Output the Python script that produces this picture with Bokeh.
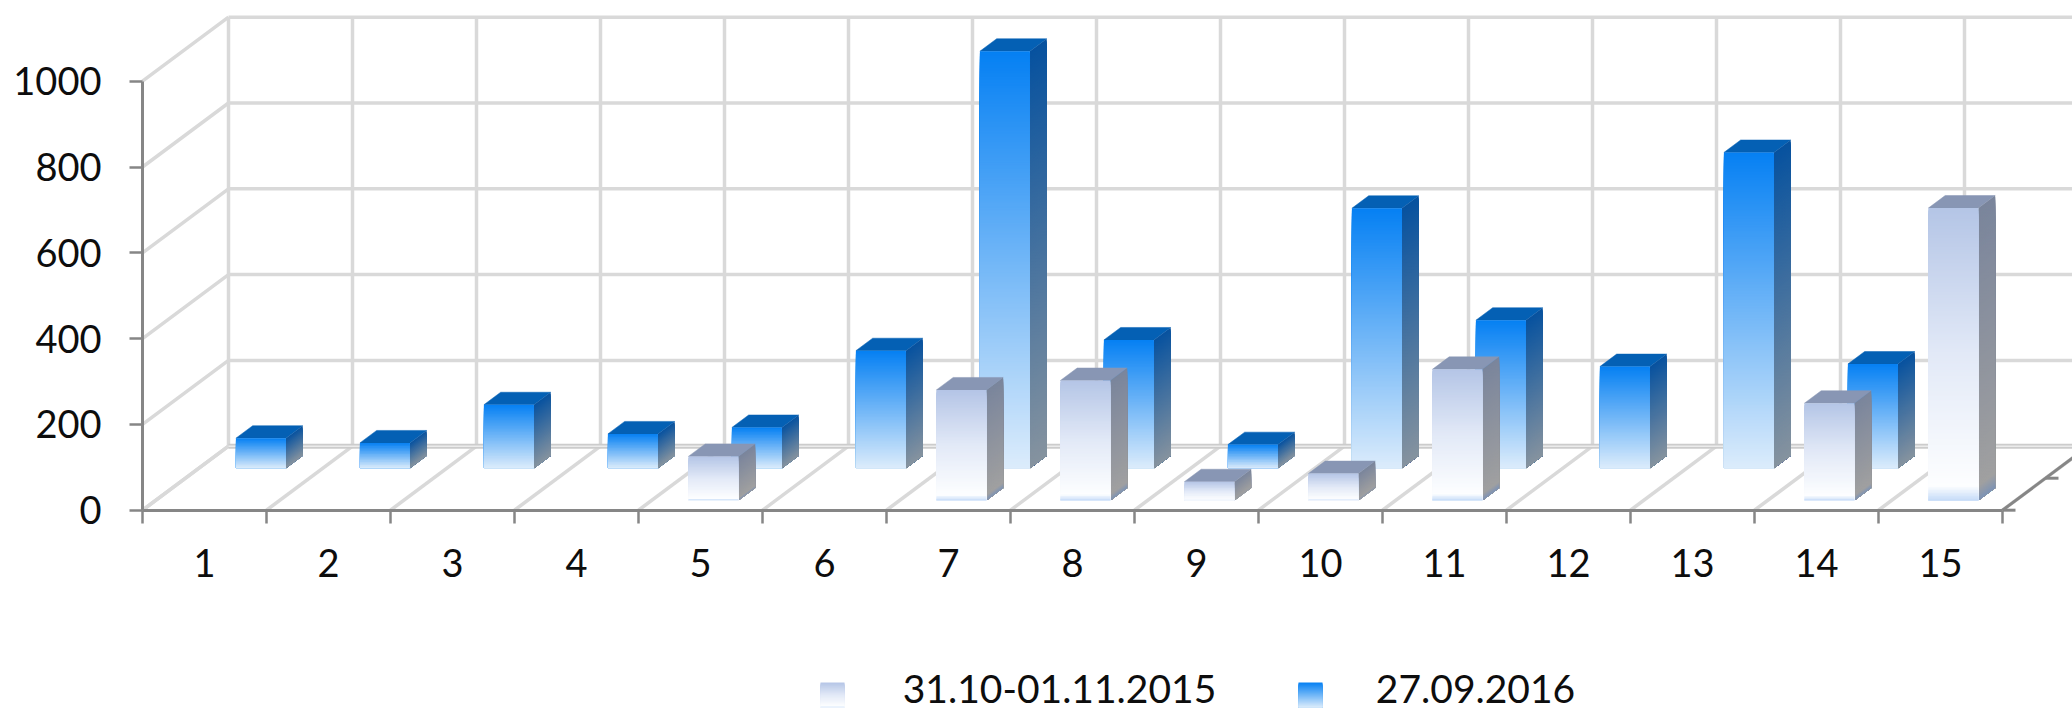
from bokeh.plotting import figure
from bokeh.models import LinearAxis, FixedTicker, Range1d
from bokeh.core.properties import value
from bokeh.embed import file_html
from bokeh.resources import INLINE

categories = [str(i) for i in range(1, 16)]
y_ticks = [0, 200, 400, 600, 800, 1000]
series_2015 = [0, 0, 0, 0, 103, 0, 258, 280, 44, 63, 306, 0, 0, 227, 682]
series_2016 = [70, 59, 148, 80, 95, 274, 972, 299, 55, 606, 345, 237, 736, 243, 0]
legend_labels = ["31.10-01.11.2015", "27.09.2016"]

W, H = 2072, 712
AX_X, AX_Y = 142.0, 509.7     # page px of the origin
CAT_PX = 124.0
VAL_PX = 0.429
DEPTH_DX, DEPTH_DY = 86.0, 64.0
FONT = "Lato"

def px_x(px):
    return (px - AX_X) / CAT_PX

def px_y(py):
    return (AX_Y - py) / VAL_PX

def proj(c, v, z):
    return c + z * DEPTH_DX / CAT_PX, v + z * DEPTH_DY / VAL_PX

def hex2rgb(h):
    return tuple(int(h[i:i + 2], 16) for i in (1, 3, 5))

def ramp(stops, t):
    for (t0, c0), (t1, c1) in zip(stops, stops[1:]):
        if t <= t1:
            f = (t - t0) / (t1 - t0) if t1 > t0 else 0
            a, b = hex2rgb(c0), hex2rgb(c1)
            return "#%02x%02x%02x" % tuple(round(a[i] + (b[i] - a[i]) * f) for i in range(3))
    return stops[-1][1]

blue_style = dict(
    face=[(0, "#0580f3"), (1, "#dcecfb")],
    side=[(0, "#07529f"), (1, "#86939f")],
    top="#0460b4", z=(0.656, 0.851))
pale_style = dict(
    face=[(0, "#b4c5e6"), (0.5, "#e2e9f7"), (0.95, "#fdfeff"), (1, "#c5dbf8")],
    side=[(0, "#7a859c"), (0.95, "#a0a0a0"), (1, "#7d93b5")],
    top="#8896b4", z=(0.15, 0.345))

p = figure(width=W, height=H, output_backend="svg", toolbar_location=None,
           min_border=0, min_border_left=0, min_border_right=0,
           min_border_top=0, min_border_bottom=0,
           x_range=Range1d(px_x(0), px_x(W)),
           y_range=Range1d(px_y(H), px_y(0)),
           outline_line_color=None, background_fill_color="white",
           border_fill_color="white")
p.xaxis.visible = False
p.yaxis.visible = False
p.xgrid.visible = False
p.ygrid.visible = False

# walls and floor
n = len(categories)
GRID = "#d9d9d9"
xs, ys = [], []
def seg(a, b):
    xs.append([a[0], b[0]])
    ys.append([a[1], b[1]])
for v in y_ticks:
    seg(proj(0, v, 0), proj(0, v, 1))
    seg(proj(0, v, 1), proj(n, v, 1))
for c in range(n + 1):
    seg(proj(c, 0, 0), proj(c, 0, 1))
    seg(proj(c, 0, 1), proj(c, y_ticks[-1], 1))
p.multi_line(xs, ys, line_color=GRID, line_width=3.5)

# back edge of the floor: a doubled line
fa, fb_ = proj(0, 0, 1), proj(n, 0, 1)
p.line([fa[0], fb_[0]], [fa[1], fb_[1]], line_color="#cccccc", line_width=5)
p.line([fa[0], fb_[0]], [fa[1], fb_[1]], line_color="#ebebeb", line_width=1.5)

AXC = "#868686"
# depth axis
dx, dy = [], []
dx.append([proj(n, 0, 0)[0], proj(n, 0, 1)[0]])
dy.append([proj(n, 0, 0)[1], proj(n, 0, 1)[1]])
for z in (0, 0.5, 1):
    a = proj(n, 0, z)
    dx.append([a[0], a[0] + 13 / CAT_PX])
    dy.append([a[1], a[1]])
p.multi_line(dx, dy, line_color=AXC, line_width=3)

def bar(vals, st):
    z0, z1 = st["z"]
    for i, v in enumerate(vals):
        if v <= 0:
            continue
        w = 50.0 / CAT_PX
        c0 = i + 0.5 - w / 2
        c1 = i + 0.5 + w / 2
        corners = [proj(c0, v, z0), proj(c1, v, z0), proj(c1, v, z1), proj(c0, v, z1)]
        p.patch([q[0] for q in corners], [q[1] for q in corners],
                fill_color=st["top"], line_color=st["top"], line_width=0.5)
        m = max(6, int(v * VAL_PX / 1.5))
        fx0, fx1, fb, ft, fc = [], [], [], [], []
        sx, sy, sc = [], [], []
        base_y = proj(c0, 0, z0)[1]
        for k in range(m):
            t0, t1 = k / m, (k + 1) / m
            vt = v * (1 - t0)
            x0, _ = proj(c0, vt, z0)
            x1, yt = proj(c1, vt, z0)
            # painter's order: every slice reaches down to the base, so no seams
            fx0.append(x0); fx1.append(x1); fb.append(base_y); ft.append(yt)
            fc.append(ramp(st["face"], (t0 + t1) / 2))
            a = proj(c1, vt, z0); b = proj(c1, vt, z1)
            c = proj(c1, 0, z1); d = proj(c1, 0, z0)
            sx.append([a[0], b[0], c[0], d[0]])
            sy.append([a[1], b[1], c[1], d[1]])
            sc.append(ramp(st["side"], (t0 + t1) / 2))
        p.patches(sx, sy, fill_color=sc, line_color=None)
        p.quad(left=fx0, right=fx1, bottom=fb, top=ft, fill_color=fc, line_color=None)

bar(series_2016, blue_style)
bar(series_2015, pale_style)

# axes
yax = LinearAxis(fixed_location=0, ticker=FixedTicker(ticks=y_ticks), bounds=(0, 1000))
yax.axis_line_color = AXC
yax.axis_line_width = 3
yax.major_tick_line_color = AXC
yax.major_tick_line_width = 2.5
yax.major_tick_in = 0
yax.major_tick_out = 13
yax.minor_tick_line_color = None
yax.major_label_standoff = 28
yax.major_label_text_font = FONT
yax.major_label_text_font_size = "38px"
yax.major_label_text_color = "#0d0d0d"
p.add_layout(yax, "left")

xax = LinearAxis(fixed_location=0, ticker=FixedTicker(ticks=list(range(n + 1))), bounds=(0, n))
xax.axis_line_color = AXC
xax.axis_line_width = 3
xax.major_tick_line_color = AXC
xax.major_tick_line_width = 2.5
xax.major_tick_in = 0
xax.major_tick_out = 13
xax.minor_tick_line_color = None
xax.major_label_text_font_size = "0px"
xax.major_label_text_color = None
p.add_layout(xax, "below")

centers = [i + 0.5 for i in range(n)]
xlab = LinearAxis(fixed_location=0, ticker=FixedTicker(ticks=centers))
xlab.axis_line_color = None
xlab.major_tick_line_color = None
xlab.minor_tick_line_color = None
xlab.major_tick_in = 0
xlab.major_tick_out = 13
xlab.major_label_standoff = 26
xlab.major_label_overrides = {c: l for c, l in zip(centers, categories)}
xlab.major_label_text_font = FONT
xlab.major_label_text_font_size = "38px"
xlab.major_label_text_color = "#0d0d0d"
p.add_layout(xlab, "below")

# legend
for label, st, sw_x, tx_x in zip(legend_labels, (pale_style, blue_style), (820, 1298), (1059, 1475)):
    m = 25
    top, bot = 682.0, 707.0
    cols = [ramp(st["face"], (k + 0.5) / m) for k in range(m)]
    p.quad(left=[px_x(sw_x)] * m, right=[px_x(sw_x + 24)] * m,
           top=[px_y(top + (bot - top) * k / m) for k in range(m)],
           bottom=[px_y(bot)] * m,
           fill_color=cols, line_color=None)
    p.text([px_x(tx_x)], [px_y(688.5)], text=[label], text_font=value(FONT),
           text_font_size="39px", text_align="center", text_baseline="middle",
           text_color="#0d0d0d")

open("out.html", "w").write(file_html(p, INLINE))
